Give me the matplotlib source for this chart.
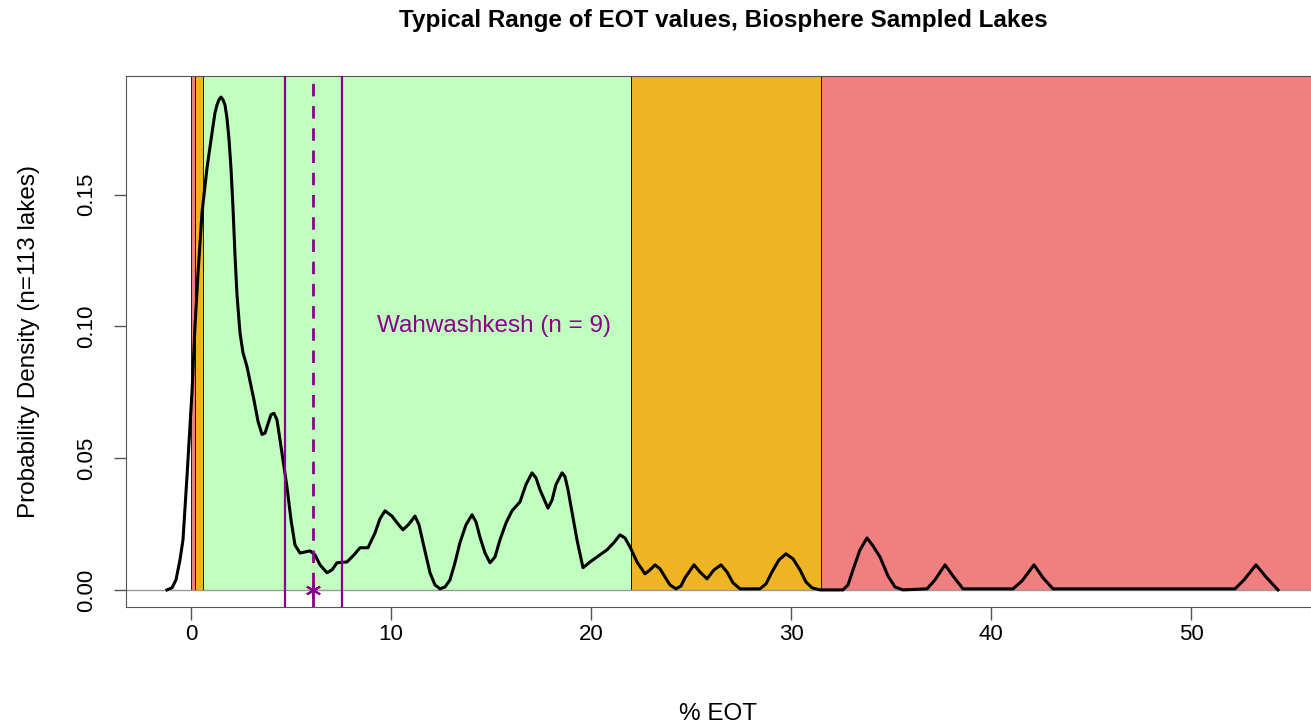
import numpy as np
import matplotlib.pyplot as plt
from matplotlib.patches import Rectangle

plt.rcParams['font.family'] = ['Liberation Sans', 'DejaVu Sans']

# density curve of EOT values
eot_x = [-1.2, -0.95, -0.75, -0.55, -0.4, -0.2, 0.05, 0.2, 0.35, 0.55, 0.8, 0.95, 1.1, 1.2, 1.3, 1.4,
         1.5, 1.6, 1.7, 1.8, 1.9, 2.0, 2.1, 2.2, 2.3, 2.45, 2.6, 2.8, 3.15, 3.35, 3.55, 3.7, 3.85,
         4.0, 4.15, 4.3, 4.45, 4.8,
         5.0, 5.2, 5.45, 5.7, 5.95, 6.2, 6.45, 6.8, 7.05, 7.3, 7.8, 8.15, 8.45, 8.85, 9.2,
         9.45, 9.7, 10.05, 10.35, 10.6, 10.9, 11.2, 11.4, 11.6, 11.95, 12.2, 12.45, 12.7,
         12.95, 13.2, 13.45, 13.75, 14.05, 14.25, 14.45, 14.7, 14.95, 15.2, 15.45, 15.75,
         16.05, 16.45, 16.75, 17.05, 17.25, 17.45, 17.85, 18.05, 18.25, 18.55, 18.7, 18.85,
         19.05, 19.3, 19.6, 19.95, 20.3, 20.8, 21.15, 21.45, 21.7, 21.95, 22.3, 22.7, 22.95,
         23.2, 23.45, 23.7, 23.95, 24.25, 24.5, 24.7, 25.15, 25.45, 25.8, 26.15, 26.5, 26.8,
         27.1, 27.45, 28.45, 28.75, 29.05, 29.4, 29.75, 30.1, 30.45, 30.75, 31.05, 31.45,
         32.6, 32.85, 33.1, 33.45, 33.8, 34.1, 34.45, 34.85, 35.2, 35.6, 36.8, 37.2, 37.7,
         38.1, 38.6, 41.1, 41.55, 42.15, 42.6, 43.1, 52.2, 52.65, 53.25, 53.75, 54.35]
eot_dens = [0.0, 0.0008, 0.0038, 0.0114, 0.019, 0.043, 0.075, 0.10, 0.12, 0.143, 0.16, 0.168,
            0.176, 0.181, 0.184, 0.186, 0.187, 0.186, 0.184, 0.179, 0.171, 0.16, 0.145, 0.127,
            0.112, 0.0976, 0.09, 0.0847, 0.072, 0.064, 0.059, 0.0595, 0.063,
            0.0665, 0.067, 0.0645, 0.057, 0.039, 0.0266, 0.017, 0.014, 0.0144, 0.0148,
            0.0133, 0.0095, 0.0065, 0.0076, 0.0103, 0.0106, 0.0133, 0.016, 0.016, 0.0216,
            0.027, 0.030, 0.028, 0.025, 0.0228, 0.025, 0.028, 0.0247, 0.018, 0.0065, 0.0019,
            0.0004, 0.0011, 0.0038, 0.0103, 0.018, 0.0247, 0.0285, 0.0258, 0.020, 0.014,
            0.0103, 0.0125, 0.019, 0.0254, 0.030, 0.0334, 0.040, 0.0444, 0.0425, 0.038, 0.031,
            0.034, 0.040, 0.0444, 0.043, 0.038, 0.0296, 0.019, 0.0084, 0.0106, 0.0125, 0.0152,
            0.018, 0.0209, 0.0197, 0.0163, 0.0106, 0.0061, 0.0076, 0.0095, 0.008, 0.0049,
            0.0019, 0.0004, 0.0015, 0.0046, 0.0095, 0.0068, 0.0042, 0.0076, 0.0095, 0.0068,
            0.0027, 0.0004, 0.0004, 0.0023, 0.0068, 0.0114, 0.0137, 0.0118, 0.0076, 0.003,
            0.0008, 0.0, 0.0, 0.0019, 0.0076, 0.0152, 0.0197, 0.0167, 0.0125, 0.0053, 0.0011,
            0.0, 0.0004, 0.0038, 0.0095, 0.0053, 0.0004, 0.0004, 0.0034, 0.0095, 0.0046,
            0.0004, 0.0004, 0.0038, 0.0095, 0.0049, 0.0]

# trophic bands: (start, end, colour)
band_start = [0.0, 0.2, 0.6, 22.0, 31.5]
band_end = [0.2, 0.6, 22.0, 31.5, 80.0]
band_col = ['#F08080', '#EEB422', '#C1FFC1', '#EEB422', '#F08080']

# Wahwashkesh lake: mean and range lines
lake_lo = 4.7
lake_mean = 6.1
lake_hi = 7.55
purple = '#8B008B'

fig = plt.figure(figsize=(13.11, 7.23), dpi=100)
ax = fig.add_axes([0.0961, 0.1604, 0.9039, 0.7345])

for s, e, c in zip(band_start, band_end, band_col):
    ax.add_patch(Rectangle((s, 0), e - s, 1, facecolor=c, edgecolor='black', lw=0.6, zorder=1))

ax.axhline(0, color='#999999', lw=1, zorder=2)
ax.plot(eot_x, eot_dens, color='black', lw=2.2, zorder=3, solid_joinstyle='round')

ax.axvline(lake_lo, color=purple, lw=1.6, zorder=4)
ax.axvline(lake_hi, color=purple, lw=1.6, zorder=4)
ax.axvline(lake_mean, color=purple, lw=2, dashes=(4.5, 3.5), zorder=4)
ax.plot([lake_mean], [0], marker=(6, 2, 0), ms=11, mew=1.5, color=purple, zorder=5, clip_on=False)
ax.text(15.15, 0.1, 'Wahwashkesh (n = 9)', color=purple, fontsize=17.5, ha='center', va='center', zorder=5)

ax.set_xlim(-3.25, 56.0)
ax.set_ylim(-0.0065, 0.195)
ax.set_xticks([0, 10, 20, 30, 40, 50])
ax.set_yticks([0, 0.05, 0.10, 0.15])
ax.set_yticklabels(['0.00', '0.05', '0.10', '0.15'], rotation=90, va='center')
ax.tick_params(axis='x', length=9, width=1, color='#555555', labelsize=16, pad=3)
ax.tick_params(axis='y', length=9, width=1, color='#555555', labelsize=16, pad=12)
for side in ['left', 'top', 'bottom']:
    ax.spines[side].set_color('#555555')
ax.spines['right'].set_visible(False)

ax.set_xlabel('% EOT', fontsize=17.5, labelpad=42)
ax.set_ylabel('Probability Density (n=113 lakes)', fontsize=17.5, labelpad=26)
fig.text(0.552, 0.971, 'Typical Range of EOT values, Biosphere Sampled Lakes',
         ha='center', va='center', fontsize=17.5, fontweight='bold')

fig.savefig('out.png', dpi=100)
